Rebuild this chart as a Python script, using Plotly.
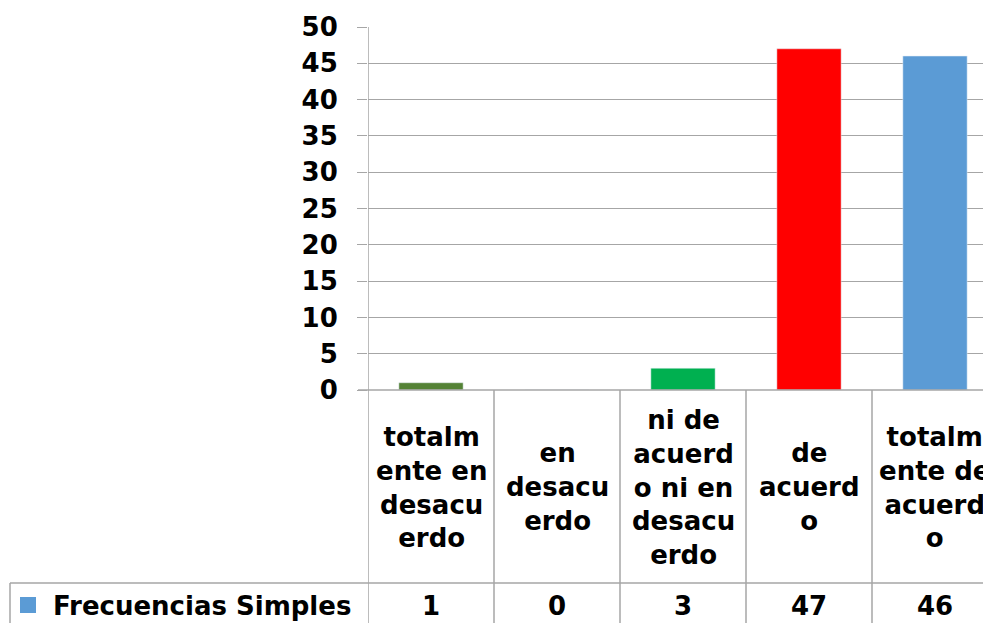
import plotly.graph_objects as go

# data
categorias = ["totalmente en desacuerdo", "en desacuerdo",
              "ni de acuerdo ni en desacuerdo", "de acuerdo",
              "totalmente de acuerdo"]
etiquetas = ["totalm<br>ente en<br>desacu<br>erdo", "en<br>desacu<br>erdo",
             "ni de<br>acuerd<br>o ni en<br>desacu<br>erdo", "de<br>acuerd<br>o",
             "totalm<br>ente de<br>acuerd<br>o"]
frecuencias = [1, 0, 3, 47, 46]
colores = ["#548235", "#5B9BD5", "#00B050", "#FF0000", "#5B9BD5"]
serie = "Frecuencias Simples"

# the page body has an 8px margin, so the figure starts at (8, 8);
# the figure runs a little past the right edge of the window, like the cropped original
OFF = 8
W, H = 991, 623 - OFF
left, top, bottom = 368 - OFF, 27 - OFF, 623 - 390
plot_h = H - top - bottom
plot_w = W - left
col_w = 126
grey = "#A6A6A6"
fnt = dict(family="DejaVu Sans", size=26, color="black", weight="bold")


def py(pix):
    # screen pixel row -> paper y
    return (H - bottom - (pix - OFF)) / plot_h


def px(pix):
    # screen pixel column -> paper x
    return (pix - OFF - left) / plot_w


fig = go.Figure()
fig.add_trace(go.Bar(x=categorias, y=frecuencias, marker_color=colores,
                     width=0.51, name=serie, showlegend=False))

fig.update_layout(
    width=W, height=H,
    margin=dict(l=left, r=0, t=top, b=bottom),
    paper_bgcolor="white", plot_bgcolor="white",
    font=fnt,
    xaxis=dict(range=[-0.5, -0.5 + plot_w / col_w], showticklabels=False, showgrid=False,
               zeroline=False, showline=False, ticks=""),
    yaxis=dict(range=[0, 50], dtick=5, showgrid=True, gridcolor=grey, gridwidth=1.3,
               zeroline=False, showline=False, ticks="outside", ticklen=10,
               tickcolor=grey, tickwidth=1.3, ticklabelstandoff=14,
               tickfont=fnt),
)

shapes = []
# axis line down through the table
shapes.append(dict(type="line", xref="x", yref="paper", x0=-0.5, x1=-0.5,
                   y0=1, y1=py(623), line=dict(color=grey, width=1.5)))
# baseline at 0
shapes.append(dict(type="line", xref="paper", yref="paper", x0=px(358), x1=1,
                   y0=0, y1=0, line=dict(color=grey, width=1.5)))
# table column dividers
for i in range(len(categorias)):
    shapes.append(dict(type="line", xref="x", yref="paper", x0=i + 0.5, x1=i + 0.5,
                       y0=0, y1=py(623), line=dict(color=grey, width=1.5)))
# row line and left border of legend cell
shapes.append(dict(type="line", xref="paper", yref="paper", x0=px(10), x1=1,
                   y0=py(583), y1=py(583), line=dict(color=grey, width=1.5)))
shapes.append(dict(type="line", xref="paper", yref="paper", x0=px(10), x1=px(10),
                   y0=py(583), y1=py(623), line=dict(color=grey, width=1.5)))
# legend key
shapes.append(dict(type="rect", xref="paper", yref="paper", x0=px(20), x1=px(36),
                   y0=py(613), y1=py(597), line=dict(width=0), fillcolor="#5B9BD5"))
fig.update_layout(shapes=shapes)

for cat, lab, val in zip(categorias, etiquetas, frecuencias):
    fig.add_annotation(x=cat, xref="x", y=py(487), yref="paper", text=lab,
                       showarrow=False, font=fnt, xanchor="center", yanchor="middle")
    fig.add_annotation(x=cat, xref="x", y=py(606), yref="paper", text=str(val),
                       showarrow=False, font=fnt, xanchor="center", yanchor="middle")

fig.add_annotation(x=px(202), xref="paper", y=py(606), yref="paper", text=serie,
                   showarrow=False, font=fnt, xanchor="center", yanchor="middle")

fig.write_html("out.html")
